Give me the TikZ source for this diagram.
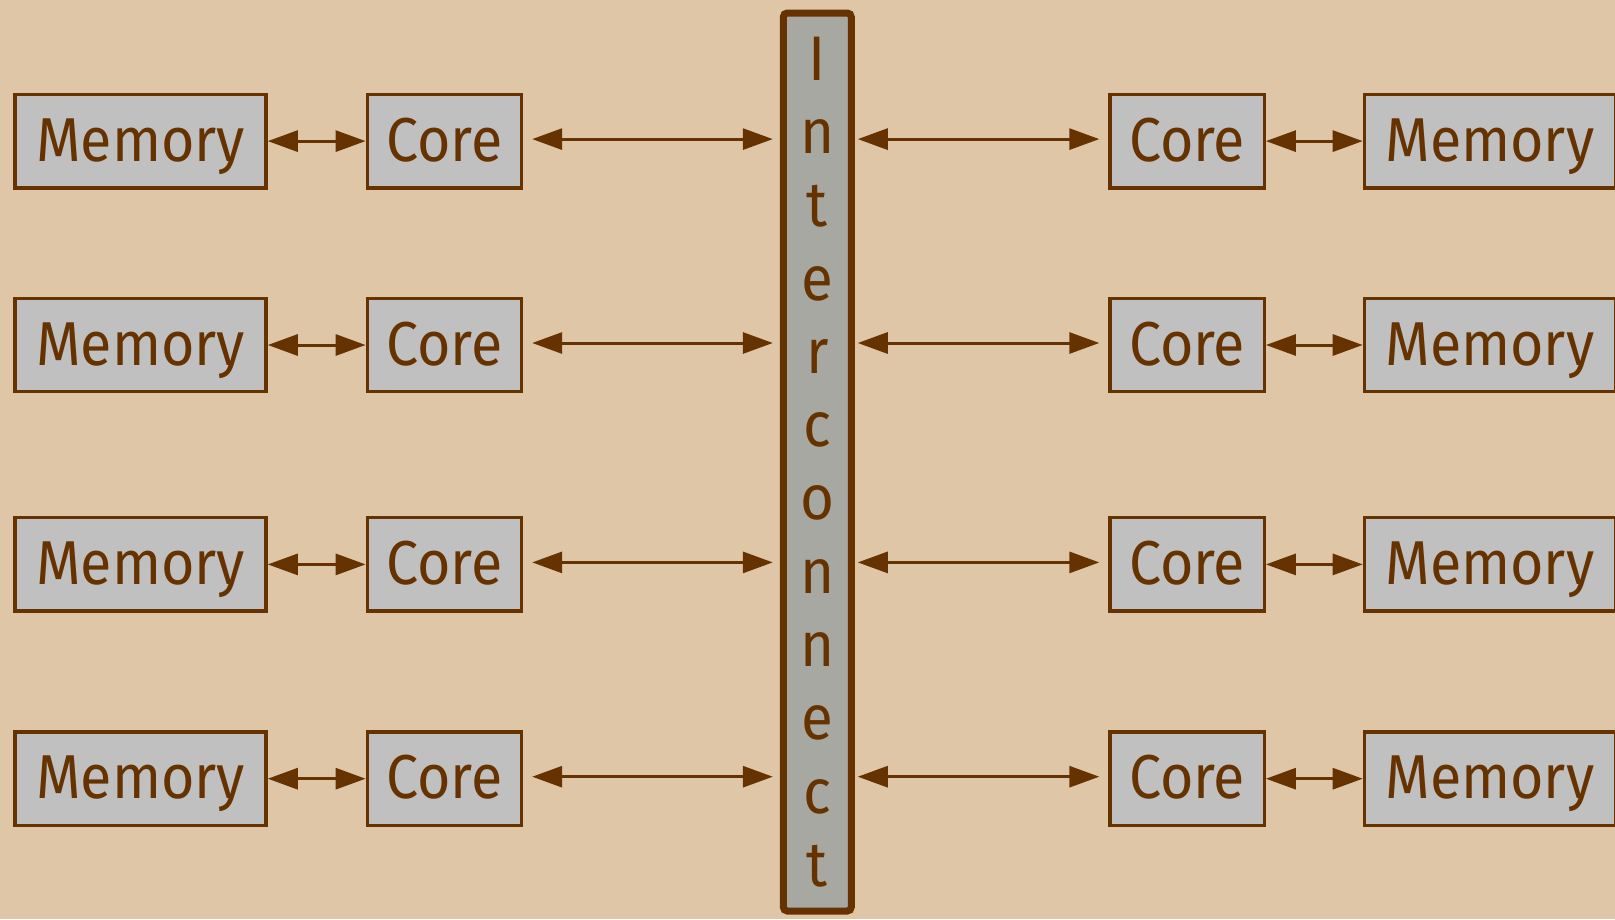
\documentclass[tikz,border=0pt]{standalone}
\usepackage{fontspec}
\setmainfont{Fira Sans}[FakeStretch=0.925]
\usetikzlibrary{arrows.meta}
\definecolor{bgtan}{HTML}{DFC6A7}
\definecolor{brn}{HTML}{663300}
\definecolor{boxgray}{HTML}{C0C0C0}
\definecolor{icgray}{HTML}{A8A8A2}
\tikzset{
  unitbox/.style={draw=brn, line width=3.4pt, fill=boxgray, text=brn, inner sep=0pt,
    minimum height=93.4pt, text height=42pt, text depth=2pt,
    font=\fontsize{62}{73}\selectfont},
  membox/.style={unitbox, minimum width=251pt},
  corebox/.style={unitbox, minimum width=154.2pt},
  icbox/.style={draw=brn, line width=7pt, fill=icgray, text=brn, inner sep=0pt,
    rounded corners=4pt, minimum width=68pt, minimum height=898pt, align=center,
    font=\fontsize{63}{73.3}\selectfont},
  biarrow/.style={draw=brn, line width=3pt, {Triangle[length=30pt,width=21pt]}-{Triangle[length=30pt,width=21pt]}}
}
\begin{document}
\begin{tikzpicture}[x=1pt,y=-1pt]
\useasboundingbox (0,0) rectangle (1615,919);
\clip (0,0) rectangle (1615,919);
\fill[bgtan] (0,0) rectangle (1615,919);
\node[icbox] (ic) at (817.3,462) {I\\n\\t\\e\\r\\c\\o\\n\\n\\e\\c\\t};
\foreach \i/\y in {1/141.1,2/345.0,3/564.4,4/778.7}{
  \node[membox] (lm\i) at (140.6,\y) {Memory};
  \node[corebox] (lc\i) at (444.4,\y) {Core};
  \node[corebox] (rc\i) at (1187.1,\y) {Core};
  \node[membox] (rm\i) at (1489.9,\y) {Memory};
  \draw[biarrow] (lm\i.east) -- (lc\i.west);
  \draw[biarrow] (rc\i.east) -- (rm\i.west);
  \draw[biarrow, shorten <=9pt, shorten >=7pt] ([yshift=2pt]lc\i.east) -- ([yshift=2pt]lc\i.east -| ic.west);
  \draw[biarrow, shorten <=3pt, shorten >=9pt] ([yshift=2pt]rc\i.west -| ic.east) -- ([yshift=2pt]rc\i.west);
}
\end{tikzpicture}
\end{document}
